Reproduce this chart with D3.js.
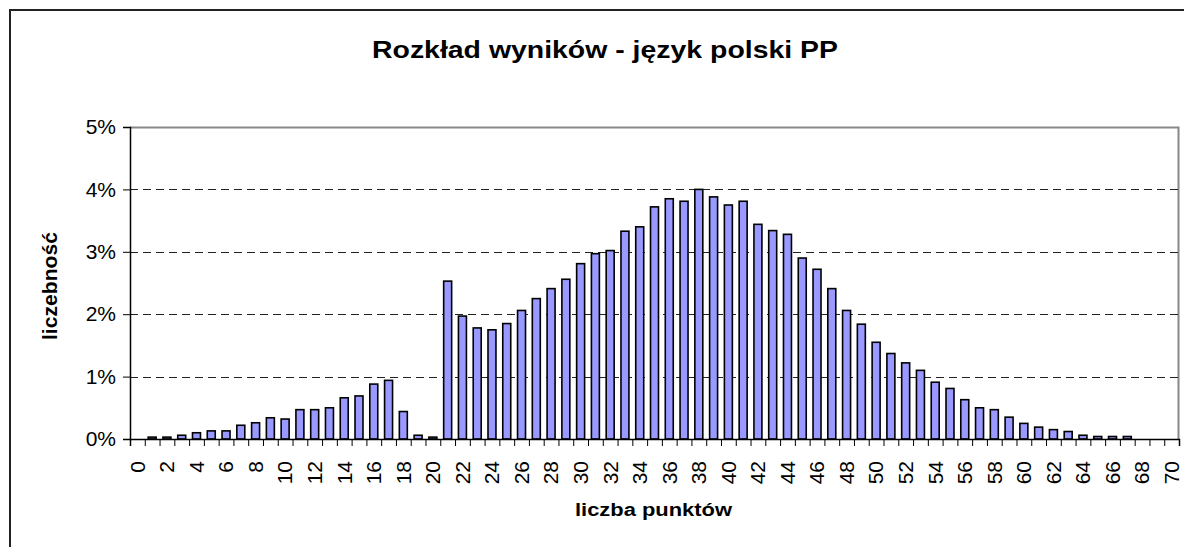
<!DOCTYPE html>
<html>
<head>
<meta charset="utf-8">
<script src="https://cdn.jsdelivr.net/npm/d3@7"></script>
<style>
  body { margin: 0; background: #fff; }
  text { font-family: Arial, "Liberation Sans", sans-serif; fill: #000; }
</style>
</head>
<body>
<div id="chart"></div>
<script>
// Data: share of students (%) per score 0..70

const points = d3.range(0, 71);
const shares = [
  0, 0.03, 0.03, 0.06, 0.10, 0.13, 0.13, 0.22, 0.26, 0.34,
  0.32, 0.47, 0.47, 0.50, 0.66, 0.69, 0.88, 0.94, 0.44, 0.06,
  0.03, 2.53, 1.97, 1.78, 1.75, 1.85, 2.06, 2.25, 2.41, 2.56,
  2.81, 2.97, 3.02, 3.33, 3.40, 3.72, 3.85, 3.81, 4.00, 3.88,
  3.75, 3.81, 3.44, 3.34, 3.28, 2.90, 2.72, 2.41, 2.06, 1.84,
  1.55, 1.37, 1.22, 1.10, 0.91, 0.81, 0.63, 0.50, 0.47, 0.35,
  0.25, 0.19, 0.15, 0.12, 0.06, 0.04, 0.04, 0.04, 0, 0, 0
];
const yTicks = [0, 1, 2, 3, 4, 5];
const xLabels = points.filter(d => d % 2 === 0);

const title = 'Rozkład wyników - język polski PP';
const xTitle = 'liczba punktów';
const yTitle = 'liczebność';

const width = 1184;
const height = 547;

const margin = { top: 127, right: 5, bottom: 108, left: 130 };
const chartWidth = width - margin.left - margin.right;
const chartHeight = height - margin.top - margin.bottom;

const svg = d3.select('#chart').append('svg')
  .attr('width', width)
  .attr('height', height);

// outer chart frame (only left and top visible in the crop)
svg.append('rect')
  .attr('x', 10).attr('y', 10)
  .attr('width', width + 20).attr('height', height + 20)
  .attr('fill', 'none')
  .attr('stroke', '#222')
  .attr('stroke-width', 2);

// the original texts are a bit stretched sideways, so textLength is used
svg.append('text')
  .attr('x', 372).attr('y', 58)
  .attr('font-size', 24)
  .attr('font-weight', 'bold')
  .attr('textLength', 466)
  .attr('lengthAdjust', 'spacingAndGlyphs')
  .text(title);

const g = svg.append('g')
  .attr('transform', `translate(${margin.left},${margin.top})`);

const x = d3.scaleBand().domain(points).range([0, chartWidth]).padding(0);
const xEdge = d3.scaleLinear().domain([0, points.length]).range([0, chartWidth]);
const y = d3.scaleLinear().domain([0, 5]).range([chartHeight, 0]);

// plot area border (grey top/right)
g.append('path')
  .attr('d', `M0,0.5H${chartWidth - 0.5}V${chartHeight}`)
  .attr('fill', 'none')
  .attr('stroke', '#888')
  .attr('stroke-width', 2);

// dashed gridlines
g.append('g')
  .selectAll('line')
  .data(yTicks.filter(d => d > 0 && d < 5))
  .enter()
  .append('line')
  .attr('x1', 0).attr('x2', chartWidth)
  .attr('y1', d => Math.round(y(d)) + 0.5)
  .attr('y2', d => Math.round(y(d)) + 0.5)
  .attr('stroke', '#222')
  .attr('stroke-dasharray', '8,5');

// bars
const barW = x.bandwidth() * 0.54;
g.append('g')
  .selectAll('rect')
  .data(shares)
  .enter()
  .append('rect')
  .attr('x', (d, i) => x(points[i]) + (x.bandwidth() - barW) / 2)
  .attr('y', d => y(d))
  .attr('width', barW)
  .attr('height', d => chartHeight - y(d))
  .attr('fill', '#9999ff')
  .attr('stroke', '#000')
  .attr('stroke-width', d => (d > 0 ? 1.6 : 0));

// y axis
const yAxis = d3.axisLeft(y)
  .tickValues(yTicks)
  .tickSize(7)
  .tickPadding(7)
  .tickFormat(d => d + '%');
const yAxisGroup = g.append('g').call(yAxis);
yAxisGroup.select('.domain').attr('stroke', '#000').attr('stroke-width', 1.5);
yAxisGroup.selectAll('.tick line').attr('stroke', '#000');
yAxisGroup.selectAll('.tick text')
  .attr('font-size', 21)
  .attr('font-family', 'Arial, "Liberation Sans", sans-serif');

// x axis: ticks on category edges
const xEdgeAxis = d3.axisBottom(xEdge)
  .tickValues(d3.range(0, points.length + 1))
  .tickSize(7)
  .tickFormat('');
const xEdgeGroup = g.append('g')
  .attr('transform', `translate(0,${chartHeight})`)
  .call(xEdgeAxis);
xEdgeGroup.select('.domain').attr('stroke', '#000').attr('stroke-width', 1.5);
xEdgeGroup.selectAll('.tick line').attr('stroke', '#000');

// x labels on category centres, rotated
const xAxis = d3.axisBottom(x)
  .tickValues(xLabels)
  .tickSize(0);
const xAxisGroup = g.append('g')
  .attr('transform', `translate(0,${chartHeight})`)
  .call(xAxis);
xAxisGroup.select('.domain').remove();
xAxisGroup.selectAll('.tick text')
  .attr('font-size', 21)
  .attr('font-family', 'Arial, "Liberation Sans", sans-serif')
  .attr('transform', 'rotate(-90)')
  .attr('text-anchor', 'end')
  .attr('x', -22)
  .attr('y', 0)
  .attr('dy', '0.35em');

// axis titles
svg.append('text')
  .attr('x', 575).attr('y', 516)
  .attr('font-size', 18)
  .attr('font-weight', 'bold')
  .attr('textLength', 157)
  .attr('lengthAdjust', 'spacingAndGlyphs')
  .text(xTitle);

svg.append('text')
  .attr('transform', 'translate(57,340) rotate(-90)')
  .attr('font-size', 20)
  .attr('font-weight', 'bold')
  .attr('textLength', 108)
  .attr('lengthAdjust', 'spacingAndGlyphs')
  .text(yTitle);
</script>
</body>
</html>
